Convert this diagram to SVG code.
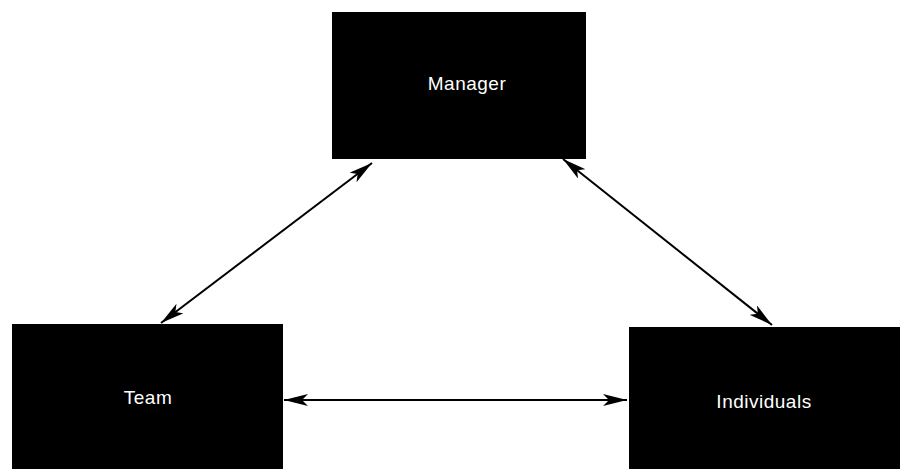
<svg xmlns="http://www.w3.org/2000/svg" width="905" height="469" viewBox="0 0 905 469">
<defs>
<marker id="ah" viewBox="0 0 24 12" refX="24" refY="6" markerWidth="24" markerHeight="12" markerUnits="userSpaceOnUse" orient="auto-start-reverse">
<path d="M0,0 L24,6 L0,12 L6,6 Z" fill="#000"/>
</marker>
<style>
.box{fill:#000}
.lbl{fill:#fff;font-family:"Liberation Sans",Arial,sans-serif;font-size:19px;letter-spacing:0.5px;text-anchor:middle}
.con{stroke:#000;stroke-width:2;fill:none;marker-start:url(#ah);marker-end:url(#ah)}
</style>
</defs>
<rect width="905" height="469" fill="#fff"/>
<g id="manager">
<rect class="box" x="332" y="12" width="254" height="147"/>
<text class="lbl" x="467" y="90">Manager</text>
</g>
<g id="team">
<rect class="box" x="12" y="324" width="271" height="145"/>
<text class="lbl" x="148" y="404">Team</text>
</g>
<g id="individuals">
<rect class="box" x="629" y="327" width="271" height="142"/>
<text class="lbl" x="764" y="408">Individuals</text>
</g>
<g id="connectors">
<line class="con" x1="161" y1="323" x2="372" y2="163"/>
<line class="con" x1="563" y1="159" x2="772" y2="325"/>
<line class="con" x1="284" y1="400" x2="627" y2="400"/>
</g>
</svg>
